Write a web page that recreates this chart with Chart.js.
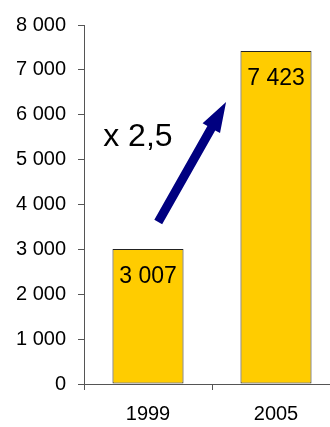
<!DOCTYPE html>
<html>
<head>
<meta charset="utf-8">
<script src="https://cdn.jsdelivr.net/npm/chart.js@4/dist/chart.umd.min.js"></script>
<style>
  html, body { margin: 0; padding: 0; background: #fff; overflow: hidden; }
  #wrap { width: 345px; height: 427px; }
</style>
</head>
<body>
<div id="wrap"><canvas id="myChart" width="345" height="427"></canvas></div>
<script>
// Values per year
const years = ["1999", "2005"];
const totals = [3007, 7423];
const growthLabel = "x 2,5";

// Arrow from the first bar towards the second (category index, value)
const arrowFrom = [0.08, 3610];
const arrowTo = [0.61, 6283];
const growthAt = [-0.35, 5303];

const fontFamily = "'Liberation Sans', Arial, sans-serif";

// Format numbers with a space as the thousands separator
function formatNumber(v) {
    return String(v).replace(/\B(?=(\d{3})+(?!\d))/g, " ");
}

// Turn a fractional category index into a pixel position
function xAt(scale, idx) {
    const p0 = scale.getPixelForValue(0);
    const p1 = scale.getPixelForValue(1);
    return p0 + (p1 - p0) * idx;
}

// Draws the value inside each bar, plus the growth arrow and its label
const extras = {
    id: "extras",
    afterDatasetsDraw(chart) {
        const ctx = chart.ctx;
        const xs = chart.scales.x;
        const ys = chart.scales.y;
        const meta = chart.getDatasetMeta(0);

        ctx.save();
        ctx.fillStyle = "#000";
        ctx.font = "23px " + fontFamily;
        ctx.textAlign = "center";
        ctx.textBaseline = "middle";
        meta.data.forEach((bar, i) => {
            ctx.fillText(formatNumber(totals[i]), bar.x, bar.y + 28);
        });

        // growth arrow
        const x1 = xAt(xs, arrowFrom[0]), y1 = ys.getPixelForValue(arrowFrom[1]);
        const x2 = xAt(xs, arrowTo[0]), y2 = ys.getPixelForValue(arrowTo[1]);
        const ang = Math.atan2(y2 - y1, x2 - x1);
        const len = Math.hypot(x2 - x1, y2 - y1);
        const shaft = 4.5, head = 10, headLen = 30;
        ctx.translate(x1, y1);
        ctx.rotate(ang);
        ctx.beginPath();
        ctx.moveTo(0, -shaft);
        ctx.lineTo(len - headLen, -shaft);
        ctx.lineTo(len - headLen, -head);
        ctx.lineTo(len, 0);
        ctx.lineTo(len - headLen, head);
        ctx.lineTo(len - headLen, shaft);
        ctx.lineTo(0, shaft);
        ctx.closePath();
        ctx.fillStyle = "#000080";
        ctx.fill();
        ctx.setTransform(1, 0, 0, 1, 0, 0);

        // growth label
        ctx.fillStyle = "#000";
        ctx.font = "32px " + fontFamily;
        ctx.textAlign = "left";
        ctx.textBaseline = "alphabetic";
        ctx.fillText(growthLabel, xAt(xs, growthAt[0]), ys.getPixelForValue(growthAt[1]));
        ctx.restore();
    }
};

new Chart(document.getElementById("myChart").getContext("2d"), {
    type: "bar",
    data: {
        labels: years,
        datasets: [{
            data: totals,
            backgroundColor: "#FFCC00",
            borderColor: "#222222",
            borderWidth: 1,
            borderSkipped: false,
            barPercentage: 0.555,
            categoryPercentage: 1.0
        }]
    },
    options: {
        responsive: false,
        animation: false,
        layout: { padding: { top: 25, right: 5, left: 0, bottom: 0 } },
        plugins: {
            legend: { display: false },
            tooltip: { enabled: false }
        },
        scales: {
            x: {
                afterFit(scale) { scale.height = 43; },
                grid: {
                    offset: true,
                    drawOnChartArea: false,
                    drawTicks: true,
                    tickLength: 6,
                    color: "#555"
                },
                border: { color: "#555", width: 1 },
                ticks: {
                    color: "#000",
                    padding: 12,
                    font: { size: 20, family: fontFamily }
                }
            },
            y: {
                min: 0,
                max: 8000,
                afterFit(scale) { scale.width = 84; },
                grid: {
                    drawOnChartArea: false,
                    drawTicks: true,
                    tickLength: 6,
                    color: "#555"
                },
                border: { color: "#555", width: 1 },
                ticks: {
                    stepSize: 1000,
                    color: "#000",
                    padding: 12,
                    font: { size: 20, family: fontFamily },
                    callback: v => formatNumber(v)
                }
            }
        }
    },
    plugins: [extras]
});
</script>
</body>
</html>
